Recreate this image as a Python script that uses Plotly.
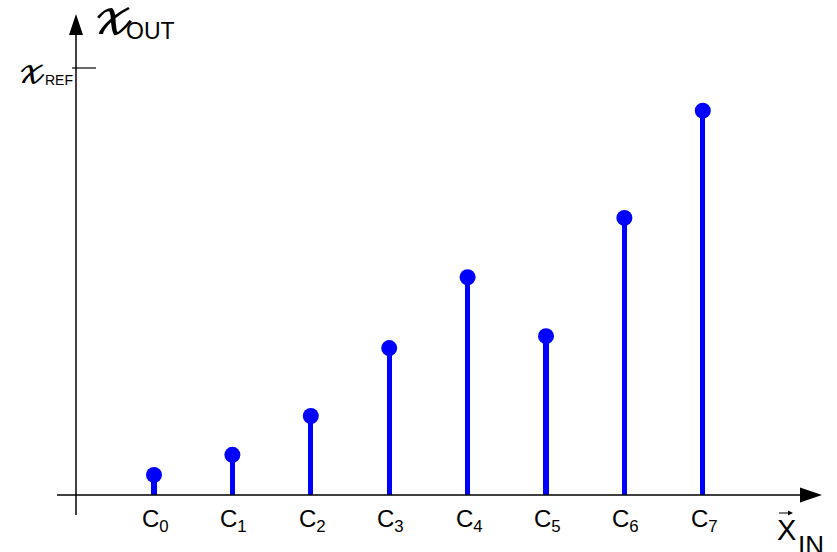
import plotly.graph_objects as go

categories = ["C<sub>0</sub>", "C<sub>1</sub>", "C<sub>2</sub>", "C<sub>3</sub>",
              "C<sub>4</sub>", "C<sub>5</sub>", "C<sub>6</sub>", "C<sub>7</sub>"]
values = [0.047, 0.094, 0.185, 0.344, 0.51, 0.372, 0.649, 0.90]
x_ref = 1.0

W, H = 837, 552
BLUE = "#0000FF"
pos = list(range(len(categories)))

def px(x):
    return x / W

def py(y):
    return 1 - y / H

fig = go.Figure()
fig.add_trace(go.Bar(x=pos, y=values, width=0.065, marker=dict(color=BLUE, line=dict(width=0)),
                     hoverinfo="skip"))
fig.add_trace(go.Scatter(x=pos, y=values, mode="markers",
                         marker=dict(color=BLUE, size=16), hoverinfo="skip"))

shapes = []
shapes.append(dict(type="line", xref="paper", yref="y", x0=px(57), x1=px(805), y0=0, y1=0,
                   line=dict(color="black", width=1.5)))
shapes.append(dict(type="path", xref="paper", yref="paper",
                   path=f"M {px(800)},{py(487.5)} L {px(822)},{py(495)} L {px(800)},{py(502.5)} Z",
                   fillcolor="black", line=dict(color="black", width=0)))
shapes.append(dict(type="line", xref="paper", yref="paper", x0=px(76), x1=px(76), y0=py(515), y1=py(33),
                   line=dict(color="black", width=1.5)))
shapes.append(dict(type="path", xref="paper", yref="paper",
                   path=f"M {px(69)},{py(35)} L {px(76)},{py(14)} L {px(83)},{py(35)} Z",
                   fillcolor="black", line=dict(color="black", width=0)))
shapes.append(dict(type="line", xref="paper", yref="y", x0=px(72), x1=px(96), y0=x_ref, y1=x_ref,
                   line=dict(color="black", width=1.2)))
# vector arrow over X
shapes.append(dict(type="line", xref="paper", yref="paper", x0=px(779), x1=px(790), y0=py(513), y1=py(513),
                   line=dict(color="black", width=1)))
shapes.append(dict(type="path", xref="paper", yref="paper",
                   path=f"M {px(788)},{py(510.5)} L {px(793)},{py(513)} L {px(788)},{py(515.5)} Z",
                   fillcolor="black", line=dict(color="black", width=0)))

ann = []
for i, c in enumerate(categories):
    ann.append(dict(x=i, y=py(520), xref="x", yref="paper", text=c, showarrow=False,
                    xanchor="left", yanchor="middle", xshift=-14,
                    font=dict(family="Liberation Sans, Arial", size=24, color="black")))

SCRIPT_X = "𝓍"
MATH = "DejaVu Math TeX Gyre, DejaVu Serif, serif"
ann.append(dict(x=px(91), y=py(19), xref="paper", yref="paper", text=SCRIPT_X, showarrow=False,
                xanchor="left", yanchor="middle",
                font=dict(family=MATH, size=50, color="black")))
ann.append(dict(x=px(124), y=py(31), xref="paper", yref="paper", text="OUT", showarrow=False,
                xanchor="left", yanchor="middle",
                font=dict(family="Liberation Sans, Arial", size=23, color="black")))
ann.append(dict(x=px(16), y=py(73), xref="paper", yref="paper", text=SCRIPT_X, showarrow=False,
                xanchor="left", yanchor="middle",
                font=dict(family=MATH, size=34, color="black")))
ann.append(dict(x=px(43), y=py(80), xref="paper", yref="paper", text="REF", showarrow=False,
                xanchor="left", yanchor="middle",
                font=dict(family="Liberation Sans, Arial", size=14, color="black")))
ann.append(dict(x=px(775), y=py(530), xref="paper", yref="paper", text="X", showarrow=False,
                xanchor="left", yanchor="middle",
                font=dict(family="Liberation Sans, Arial", size=29, color="black")))
ann.append(dict(x=px(796), y=py(545), xref="paper", yref="paper", text="IN", showarrow=False,
                xanchor="left", yanchor="middle",
                font=dict(family="Liberation Sans, Arial", size=26, color="black")))

fig.update_layout(
    width=W, height=H, margin=dict(l=0, r=0, t=0, b=0),
    paper_bgcolor="white", plot_bgcolor="white", showlegend=False,
    xaxis=dict(range=[-154 / 78.4, (W - 154) / 78.4], visible=False, fixedrange=True),
    yaxis=dict(range=[-(H - 495) / 427, 495 / 427], visible=False, fixedrange=True),
    shapes=shapes, annotations=ann, bargap=0,
)

fig.write_html("out.html", config={"displayModeBar": False},
               post_script="document.body.style.margin='0';document.body.style.overflow='hidden';")
